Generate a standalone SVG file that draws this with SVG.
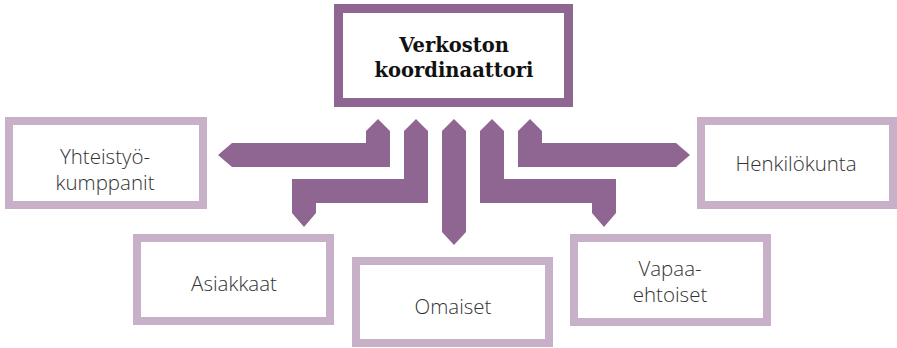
<svg xmlns="http://www.w3.org/2000/svg" width="897" height="348" viewBox="0 0 897 348">
<style>
.box{fill:#fff;stroke:#c8b0c9;stroke-width:8}
.main{fill:#fff;stroke:#8f6591;stroke-width:9}
.lbl{font-family:"Open Sans","Lato","Liberation Sans",sans-serif;font-weight:300;font-size:20.5px;fill:#333;text-anchor:middle}
.ttl{font-family:"DejaVu Serif","Liberation Serif",serif;font-weight:bold;font-size:19.5px;fill:#111;text-anchor:middle}
.arr{fill:#8f6591}
</style>
<rect width="897" height="348" fill="#fff"/>
<g id="connectors">
<polygon class="arr" points="378,119 390,131 390,167 232,167 218,155 232,143 366,143 366,131"/>
<polygon class="arr" points="416,119 428,131 428,203 316,203 316,213 304,227 292,213 292,179 404,179 404,131"/>
<polygon class="arr" points="454,119 466,131 466,232 454,245 442,232 442,131"/>
<polygon class="arr" points="492,119 504,131 504,179 616,179 616,213 604,227 592,213 592,203 480,203 480,131"/>
<polygon class="arr" points="530,119 542,131 542,143 676,143 690,155 676,167 518,167 518,131"/>
</g>
<g id="koordinaattori">
<rect class="main" x="338.5" y="8.5" width="230" height="94"/>
<text class="ttl" x="454" y="52">Verkoston</text>
<text class="ttl" x="454" y="77">koordinaattori</text>
</g>
<g id="yhteistyokumppanit">
<rect class="box" x="9" y="121" width="194" height="84"/>
<text class="lbl" x="105" y="164">Yhteistyö-</text>
<text class="lbl" x="105" y="190">kumppanit</text>
</g>
<g id="asiakkaat">
<rect class="box" x="137" y="238" width="193" height="83"/>
<text class="lbl" x="234" y="291">Asiakkaat</text>
</g>
<g id="omaiset">
<rect class="box" x="356" y="261" width="193" height="82"/>
<text class="lbl" x="453" y="314">Omaiset</text>
</g>
<g id="vapaaehtoiset">
<rect class="box" x="574" y="238" width="193" height="84"/>
<text class="lbl" x="670" y="276">Vapaa-</text>
<text class="lbl" x="670" y="302">ehtoiset</text>
</g>
<g id="henkilokunta">
<rect class="box" x="701" y="121" width="192" height="84"/>
<text class="lbl" x="796" y="171">Henkilökunta</text>
</g>
</svg>
